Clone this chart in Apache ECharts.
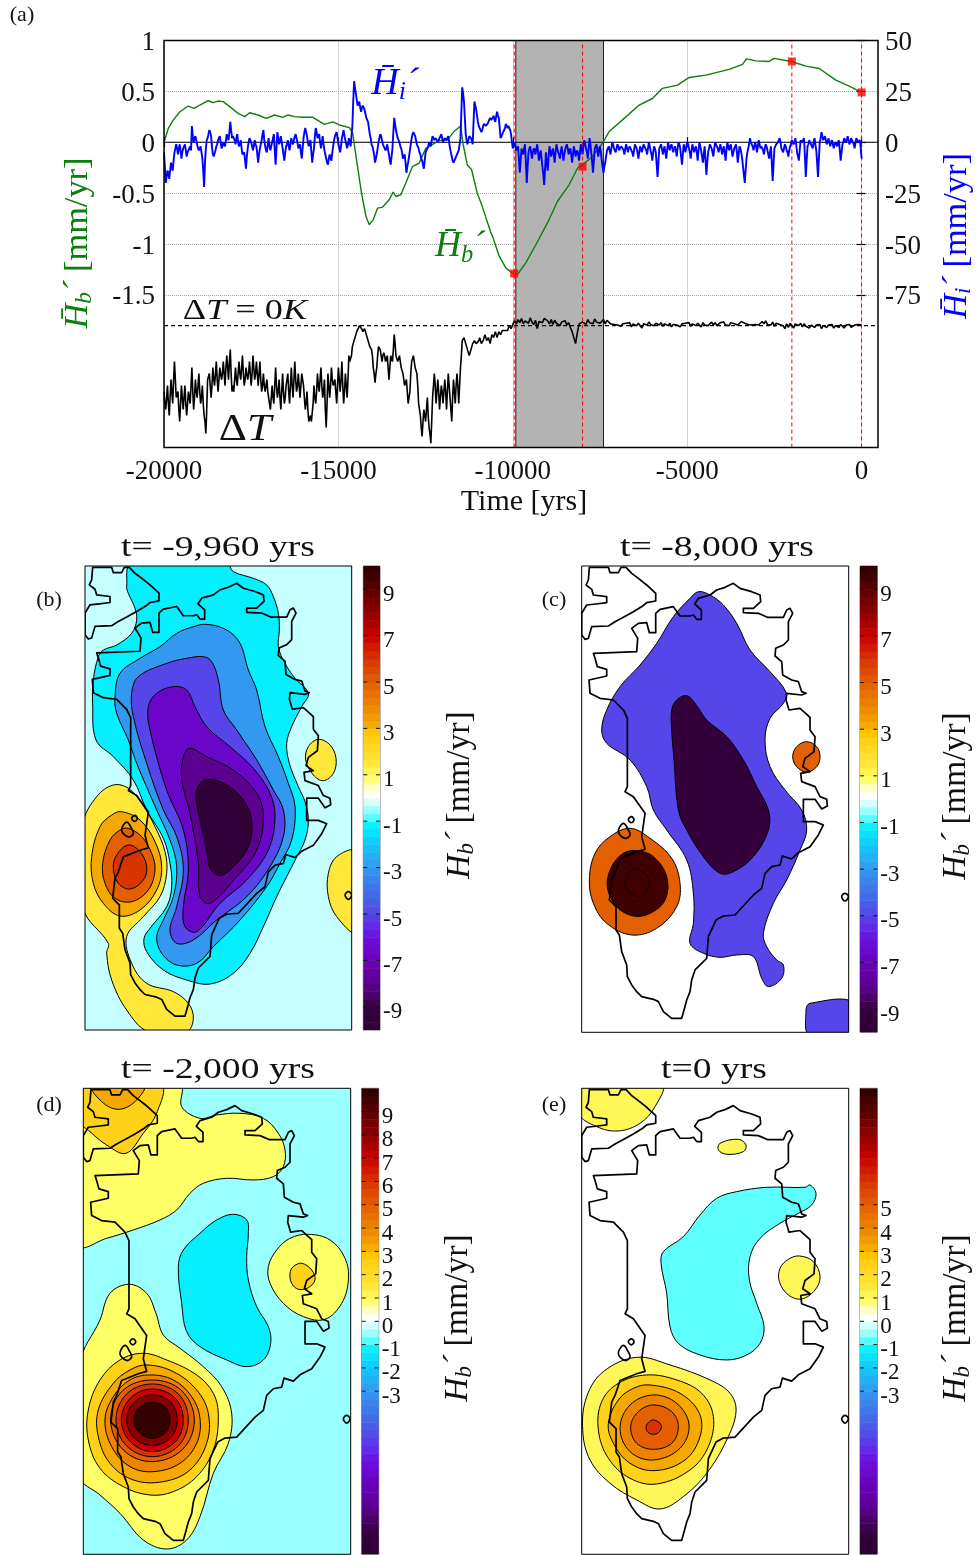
<!DOCTYPE html>
<html><head><meta charset="utf-8">
<style>html,body{margin:0;padding:0;background:#fff}#c{width:977px;height:1555px}</style>
<script src="https://cdn.jsdelivr.net/npm/echarts@6/dist/echarts.min.js"></script>
</head><body><div id="c"></div>
<script>
// ---------- panel (a): time series ----------
const xTicks = [-20000,-15000,-10000,-5000,0];
const leftTicks = [1,0.5,0,-0.5,-1,-1.5];
const rightTicks = [50,25,0,-25,-50,-75];
const markerTimes = [-9960,-8000,-2000,0];
const markerValues = [-1.29,-0.24,0.794,0.49];
const recoveryBand = [-9914,-7400];
const yearStep = 50;

// Hi' (mm/yr), every 50 yr from -20000
const iceRate = [
-5,-20,-14,-18,-10,-14,-5,-1,-6,-1,-8,-3,-1,-7,-4,-2,8,0,3,-1,
-4,-2,-8,-22,-3,2,6,3,-6,-7,-2,1,3,-3,0,-2,4,1,10,2,
3,-1,4,-2,1,-6,-5,-13,-3,2,0,-4,1,-2,-10,-3,1,6,-2,-5,
2,-4,0,4,-11,5,-1,3,-3,-9,-2,1,-4,2,-1,3,4,-3,-1,-8,
2,7,3,-2,1,-10,-3,7,2,4,-3,3,-4,-8,-11,-6,-9,-2,3,5,
-1,-5,2,6,1,-3,2,-2,8,30,24,18,20,15,18,16,12,10,4,-1,
-2,-10,-6,0,4,1,-2,-4,-1,-6,-11,-3,12,6,2,0,-3,-8,-6,-15,
-10,-4,2,5,3,-1,-3,-6,-9,-13,-5,-3,0,-2,3,1,2,0,1,4,
0,2,1,3,-3,-7,-10,-8,-6,-4,2,27,20,4,-1,3,2,-1,20,16,
10,7,5,8,9,8,10,12,11,13,10,15,12,2,4,6,9,7,8,4,
-3,0,-4,-2,-15,-3,-6,-1,-20,-5,-2,-8,-3,-6,-1,-9,-4,-12,-21,-5,
-14,-2,-7,-3,-10,-1,-5,-8,-2,-9,-4,-1,-6,-3,-10,-2,-7,-4,-9,-1,
-6,1,-3,-8,2,-5,-15,-3,-1,-7,-2,-9,-15,-10,-4,-2,-6,0,-3,-5,
-1,-4,-2,-3,-6,-1,-5,-2,-4,-7,-1,-3,-8,-2,-5,-1,-3,-6,0,-4,
-9,-2,-5,-17,-3,-1,-6,-2,-8,0,-4,-1,-5,-2,-7,0,-3,-11,-1,-5,
0,-3,-8,-1,-5,-2,-9,0,-4,-10,-2,-16,-5,-1,-3,-7,0,-2,-5,-1,
-6,-2,-9,0,-4,-1,-7,-3,-1,-10,-2,-5,-12,-20,-8,-3,2,-1,-4,0,
-5,1,-3,-2,-6,-1,-4,-8,-2,-19,-3,-1,0,2,-3,-5,-1,-4,-7,-2,
1,-1,2,-5,-9,1,0,2,-17,-2,1,-1,-3,2,-4,-17,0,5,1,3,
-1,2,-2,1,-3,0,-2,1,-9,-1,2,0,3,-1,2,1,-3,2,0,1,-8];
// Hi' samples halfway between the ones above
const iceRateMid = [
-12,-17,-15,-14,-12,-9,-3,-3,-3,-4,-5,-2,-4,-5,-3,-4,3,2,1,-3,
-3,-5,-14,-10,1,4,5,-2,-7,-4,-1,2,0,-2,-1,1,2,5,6,3,
1,2,0,-1,-3,-6,-9,-7,0,1,-2,-2,-1,-6,-6,-1,4,1,-4,-1,
-2,-2,2,-4,-3,2,1,0,-6,-5,-1,-2,-1,0,1,4,0,-2,-5,-3,
5,5,0,0,-5,-6,3,5,3,0,0,-1,-6,-10,-8,-8,-5,1,4,2,
-3,-2,4,3,-1,-1,0,3,20,27,21,19,17,17,17,14,11,7,2,-2,
-6,-8,-3,2,3,-1,-3,-3,-4,-9,-7,5,9,4,1,-2,-5,-7,-10,-12,
-7,-1,4,4,1,-2,-5,-8,-11,-9,-4,-2,-1,1,2,2,1,1,3,2,
1,2,2,0,-5,-9,-9,-7,-5,-1,15,24,12,1,1,3,1,10,18,13,
8,6,6,9,8,9,11,11,12,11,13,13,7,3,5,7,8,8,6,0,
-2,-2,-3,-8,-9,-5,-3,-10,-12,-3,-5,-5,-4,-3,-5,-6,-8,-16,-13,-10,
-8,-4,-5,-6,-5,-3,-6,-5,-5,-6,-2,-3,-4,-6,-6,-4,-5,-6,-5,-3,
-2,-1,-5,-3,-1,-10,-9,-2,-4,-4,-5,-12,-12,-7,-3,-4,-3,-1,-4,-3,
-2,-3,-2,-4,-3,-3,-3,-3,-5,-4,-2,-5,-5,-3,-3,-2,-4,-3,-2,-6,
-5,-3,-11,-10,-2,-3,-4,-5,-4,-2,-2,-3,-3,-4,-3,-1,-7,-6,-3,-2,
-1,-5,-4,-3,-3,-5,-4,-2,-7,-6,-9,-10,-3,-2,-5,-3,-1,-3,-3,-3,
-4,-5,-4,-2,-2,-4,-5,-2,-5,-6,-3,-8,-16,-14,-5,-1,0,-2,-2,-2,
-2,-1,-2,-4,-3,-2,-6,-5,-10,-11,-2,-1,1,0,-4,-3,-2,-5,-4,-1,
0,0,-1,-7,-4,0,1,-7,-9,-1,0,-2,0,-1,-10,-8,2,3,2,1,
0,0,0,-1,-1,-1,0,-4,-5,0,1,1,1,0,1,-1,0,1,0,-3];

// deltaT (K), every 50 yr from -20000
const deltaT = [
-11,-14,-10,-15,-9,-13,-6,-12,-11,-16,-10,-14,-10,-15,-11,-13,-7,-14,-9,-12,
-8,-13,-10,-15,-18,-9,-8,-12,-7,-10,-6,-11,-7,-9,-6,-10,-5,-9,-4,-11,
-11,-7,-10,-6,-9,-5,-10,-7,-9,-6,-10,-5,-9,-6,-10,-6,-11,-8,-11,-9,
-12,-14,-10,-13,-7,-12,-9,-14,-8,-13,-10,-8,-13,-7,-12,-6,-11,-8,-12,-8,
-10,-14,-11,-16,-15,-16,-10,-13,-8,-11,-7,-12,-9,-17,-8,-12,-7,-10,-9,-13,
-7,-11,-6,-13,-8,-12,-5,-6,-3.5,-2.5,-1.5,-0.8,0,-0.3,-1,-0.5,-1.5,-2.5,-3.5,-4,
-7,-9.5,-7,-3.5,-4,-6,-4.5,-6,-5,-9,-5,-6,-1.5,-5,-6,-5,-7,-8,-10,-9,
-13,-11,-6,-5,-7,-8,-13,-15,-18.5,-14,-16,-12,-17,-19.6,-12,-8,-13,-9,-14,-10,
-13,-9,-14,-8,-12,-16,-9,-13,-8,-13,-7,-2.5,-2,-3,-4,-5,-4,-3,-2.5,-3,
-3,-2,-3,-2.5,-1.5,-2.5,-2,-3,-1.5,-2,-1,-2,-1,-1.5,-0.8,-1,-0.5,-0.8,0,-0.5,
0.2,0.8,0.3,1,0.5,1.2,0.3,0.8,1.1,0.4,1.3,0.6,0.2,0.9,-0.5,0.7,1,0.5,1.2,1.5,
0.8,0.3,1,0.2,0.9,0.4,0.7,0,0.6,0.3,0.8,0.1,0.5,-0.3,-1,-2,-3,-1.2,0.3,0.5,
0.6,0.9,0.2,1,0.5,0.8,0.3,1.1,0.6,0.9,0.4,0.7,1,0.3,0.9,0.8,0.3,0.6,0.2,0.5,
0.1,0.4,-0.1,0.3,0,0.4,0.2,0.5,-0.2,0.3,0.6,0,0.4,0.1,-0.4,0.3,0.5,0.1,0.6,0.2,
0.5,0,0.4,0.7,0.1,0.5,-0.1,0.3,0.6,0,0.4,-0.2,0.2,0.5,0.1,0.4,-0.2,0.3,0,0.4,
0.1,0.5,-0.1,0.3,0.6,0,0.4,0.2,-0.2,0.5,0.1,0.4,0,0.3,0.6,0.1,0.5,0,0.3,0.5,
0.2,0.6,0.1,0.4,0,0.5,0.8,0.3,0.6,0.1,0.4,0.7,0.9,0.4,0.6,0.2,0.5,0.1,0.4,0.2,
0.5,0.1,0.4,0.7,0.3,0.8,0.2,0.5,0.1,0.6,-0.1,0.4,0.7,0.2,0.5,0,-0.5,0.3,-0.3,0.4,
0.1,-0.4,0.3,0.6,0,0.4,-0.2,0.3,-0.1,0.2,-0.4,0.1,0.3,-0.3,0.1,-0.2,0.2,-0.5,0,0.2,
-0.3,0.1,-0.2,0.2,-0.4,0,0.1,-0.3,0.2,-0.1,-0.4,0.1,-0.2,0.2,-0.3,0,0.1,-0.2,0.2,0,0.1];
// deltaT samples halfway between the first 200 above
const deltaTMid = [
-13,-12,-13,-12,-11,-9,-9,-12,-14,-13,-12,-12,-13,-13,-12,-10,-11,-12,-11,-10,
-11,-12,-13,-16,-14,-9,-10,-10,-9,-8,-9,-9,-8,-8,-8,-7,-7,-6,-8,-10,
-9,-9,-8,-8,-7,-8,-9,-8,-8,-8,-8,-7,-8,-8,-8,-9,-10,-10,-10,-11,
-13,-12,-12,-10,-10,-11,-12,-11,-11,-12,-9,-11,-10,-10,-9,-9,-10,-10,-10,-9,
-12,-13,-14,-16,-16,-13,-12,-11,-10,-9,-10,-11,-14,-13,-10,-10,-9,-10,-11,-10,
-9,-9,-10,-11,-10,-9,-6,-5,-3,-2,-1,-0.4,-0.2,-0.6,-0.8,-1,-2,-3,-3.8,-5,
-8,-8,-5,-3.8,-5,-5,-5,-5.5,-7,-7,-5.5,-4,-3,-5.5,-5.5,-6,-7.5,-9,-9.5,-11,
-12,-8,-5.5,-6,-7.5,-10,-14,-17,-16,-15,-14,-15,-18,-16,-10,-10,-11,-11,-12,-11,
-11,-11,-11,-10,-14,-12,-11,-10,-10,-10,-5,-2.2,-2.5,-3.5,-4.5,-4.5,-3.5,-2.8,-2.8,-3,
-2.5,-2.5,-2.8,-2,-2,-2.2,-2.5,-2.2,-1.8,-1.5,-1.5,-1.5,-1.2,-1.2,-0.9,-0.8,-0.6,-0.4,-0.2,-0.2];

// Hb' (mm/yr): [time, value]
const bedRate = [[-20000,0],[-19876,0.137],[-19733,0.22],[-19543,0.30],[-19305,0.356],[-19143,0.333],[-18971,0.366],[-18733,0.408],[-18590,0.389],[-18448,0.405],[-18305,0.399],[-18114,0.35],[-17876,0.284],[-17686,0.252],[-17543,0.29],[-17305,0.268],[-17067,0.235],[-16829,0.268],[-16590,0.245],[-16448,0.268],[-16257,0.252],[-16019,0.245],[-15733,0.245],[-15400,0.176],[-15162,0.2],[-14971,0.17],[-14686,0.144],[-14590,0.09],[-14495,-0.14],[-14352,-0.467],[-14210,-0.73],[-14114,-0.81],[-14000,-0.76],[-13876,-0.647],[-13733,-0.637],[-13543,-0.565],[-13429,-0.49],[-13352,-0.533],[-13210,-0.516],[-13067,-0.4],[-12876,-0.239],[-12686,-0.206],[-12495,-0.06],[-12114,0.016],[-11876,0.023],[-11686,0.105],[-11495,0.16],[-11429,-0.01],[-11305,-0.222],[-11181,-0.27],[-11019,-0.5],[-10876,-0.63],[-10638,-0.88],[-10580,-0.925],[-10390,-1.12],[-10200,-1.235],[-10000,-1.29],[-9866,-1.30],[-9627,-1.186],[-9340,-1.007],[-8958,-0.76],[-8719,-0.58],[-8384,-0.418],[-8145,-0.255],[-8002,-0.222],[-7715,-0.14],[-7429,-0.01],[-7238,0.105],[-6855,0.22],[-6377,0.366],[-5995,0.43],[-5708,0.53],[-5278,0.562],[-4944,0.637],[-4466,0.66],[-3797,0.716],[-3414,0.765],[-3300,0.82],[-3032,0.80],[-2650,0.794],[-2507,0.824],[-2010,0.794],[-1599,0.748],[-1217,0.725],[-739,0.61],[-356,0.552],[0,0.49]];

// ---------- maps: outlines in map-grid units ----------
const coastIslands = [
[[275,250],[290,225],[318,222],[350,218],[350,200],[310,195],[305,178],[288,165],[295,150],[298,112],[355,112],[360,128],[385,128],[393,112],[408,112],[425,130],[445,145],[470,165],[497,190],[497,213],[470,218],[458,228],[430,245],[400,262],[375,275],[355,288],[305,290],[295,325],[285,328],[275,315]],
[[385,905],[400,880],[415,900],[420,915],[405,925]],
[[415,868],[425,860],[432,870],[423,878]],
[[1055,1100],[1065,1090],[1075,1100],[1065,1113]]];
const coastMain = [[425,295],[445,280],[470,278],[478,308],[497,308],[497,250],[510,238],[550,230],[570,258],[600,258],[610,255],[620,268],[634,268],[634,240],[614,222],[625,205],[660,195],[680,180],[705,172],[730,160],[750,175],[785,185],[810,195],[812,215],[790,235],[760,235],[760,248],[805,250],[832,262],[880,262],[890,240],[900,235],[908,250],[895,275],[895,330],[880,345],[857,355],[855,378],[875,395],[878,435],[905,450],[925,455],[935,485],[948,490],[935,495],[890,490],[888,510],[897,540],[930,535],[960,562],[960,600],[975,620],[972,665],[945,685],[938,710],[960,725],[932,730],[935,755],[975,770],[990,800],[1010,808],[1012,828],[995,837],[975,808],[940,808],[940,875],[975,875],[1000,885],[985,915],[960,950],[925,968],[905,987],[877,978],[870,1005],[845,1010],[825,1030],[815,1075],[790,1095],[735,1155],[700,1158],[678,1170],[655,1220],[650,1285],[615,1320],[605,1350],[600,1385],[590,1410],[582,1440],[575,1465],[545,1465],[520,1445],[505,1415],[490,1408],[455,1400],[440,1385],[425,1365],[412,1340],[410,1305],[395,1265],[388,1215],[378,1200],[378,1130],[358,1110],[365,1050],[375,1030],[390,985],[440,965],[465,958],[455,920],[465,850],[430,800],[405,785],[412,770],[412,565],[400,540],[370,510],[330,505],[300,490],[297,450],[350,438],[350,418],[322,410],[315,385],[310,370],[440,365],[443,325],[425,295]];

// contour regions: [level in mm/yr, outline]
const contoursB = [
[-1.2,[[395,100],[680,100],[700,125],[760,145],[800,165],[820,200],[835,250],[838,300],[835,350],[855,400],[885,445],[925,490],[905,530],[875,590],[860,640],[868,700],[895,770],[915,815],[925,870],[915,930],[888,985],[860,1040],[830,1100],[790,1190],[750,1270],[700,1330],[630,1362],[560,1350],[490,1320],[440,1265],[432,1225],[450,1195],[500,1130],[515,1070],[510,1000],[490,925],[440,840],[400,750],[340,680],[288,630],[278,520],[280,450],[295,380],[310,360],[350,345],[395,310],[410,270],[405,235],[385,190],[380,170]]],
[-3,[[620,283],[680,300],[720,340],[745,420],[770,480],[795,590],[835,680],[865,760],[885,830],[875,930],[840,1000],[800,1070],[720,1170],[640,1250],[590,1300],[530,1305],[485,1270],[470,1220],[490,1170],[520,1100],[530,1010],[510,930],[470,840],[410,700],[385,630],[350,550],[345,500],[360,430],[420,385],[480,350],[530,310],[580,290]]],
[-5,[[610,380],[635,395],[655,450],[670,540],[710,600],[770,690],[820,780],[850,840],[850,920],[810,1010],[740,1100],[650,1170],[580,1230],[530,1240],[510,1200],[530,1130],[550,1020],[530,920],[490,840],[440,700],[400,560],[395,490],[415,440],[500,400],[560,385]]],
[-6.6,[[520,470],[560,480],[585,530],[620,590],[690,650],[760,715],[810,790],[825,860],[805,960],[740,1050],[660,1120],[590,1205],[555,1190],[550,1130],[565,1020],[550,900],[500,780],[450,600],[445,530],[470,490]]],
[-8,[[570,655],[620,680],[700,720],[770,790],[790,860],[770,960],[710,1040],[630,1120],[600,1100],[595,1000],[570,850],[545,750],[550,680]]],
[-9.5,[[630,748],[680,765],[730,810],[755,870],[745,950],[700,1010],[660,1037],[630,1015],[620,960],[600,870],[588,800],[600,760]]],
[1.5,[[340,765],[385,775],[425,820],[465,890],[495,965],[500,1030],[480,1100],[430,1160],[380,1220],[395,1300],[440,1360],[520,1385],[565,1420],[580,1465],[560,1505],[445,1505],[380,1440],[335,1350],[320,1270],[325,1240],[250,1135],[250,880],[290,800]]],
[3.2,[[365,845],[420,870],[465,935],[485,1010],[470,1080],[420,1140],[360,1158],[310,1120],[280,1060],[275,980],[300,890],[335,855]]],
[5,[[385,895],[425,920],[455,970],[465,1020],[445,1080],[395,1115],[345,1105],[315,1060],[308,1000],[330,930],[360,900]]],
[6,[[385,945],[420,965],[440,1010],[430,1050],[390,1077],[355,1060],[340,1015],[350,975]]],
[1.5,[[955,628],[990,645],[1008,685],[1000,730],[970,752],[940,735],[917,690],[925,650]]],
[1.5,[[1065,965],[1010,980],[985,1030],[985,1100],[1010,1160],[1065,1205]]]];
const contoursC = [
[-5,[[625,185],[660,195],[700,225],[740,280],[780,360],[840,425],[888,487],[880,520],[840,565],[825,630],[840,710],[885,780],[935,840],[950,900],[930,960],[890,1050],[850,1120],[820,1210],[830,1250],[860,1290],[880,1305],[875,1345],[835,1370],[815,1345],[790,1280],[740,1275],[690,1282],[640,1270],[600,1240],[610,1180],[610,1090],[590,990],[530,900],[490,840],[470,770],[420,690],[350,640],[335,600],[350,540],[390,470],[450,405],[500,340],[550,260],[600,205]]],
[-9.3,[[590,497],[615,520],[650,570],[710,620],[760,690],[800,770],[835,840],[835,900],[790,980],[730,1025],[690,1030],[640,980],[590,900],[565,840],[552,690],[545,600],[545,540],[560,510]]],
[5,[[420,895],[480,925],[545,985],[570,1060],[560,1130],[500,1195],[425,1215],[350,1180],[310,1120],[298,1050],[315,970],[360,920]]],
[9.6,[[440,962],[490,980],[530,1040],[525,1110],[480,1150],[430,1158],[380,1130],[352,1070],[365,1010],[400,970]]],
[9.6,[[440,1018],[470,1035],[478,1060],[465,1090],[437,1098],[410,1080],[405,1055],[415,1030]]],
[5,[[950,635],[980,650],[990,680],[980,710],[950,727],[920,710],[908,680],[920,650]]],
[-5,[[960,1420],[1090,1417],[1095,1520],[960,1520],[948,1440]]]];
const contoursD = [
[0.9,[[240,105],[540,105],[545,170],[600,205],[650,195],[720,190],[790,205],[835,250],[855,300],[850,350],[820,380],[760,390],[680,385],[610,400],[570,430],[530,480],[480,510],[400,540],[320,565],[240,585]]],
[-1.2,[[700,493],[740,510],[745,550],[740,620],[745,690],[770,770],[805,830],[812,880],[790,930],[740,950],[680,930],[600,890],[560,845],[545,760],[535,650],[550,600],[600,550],[650,510]]],
[2.4,[[240,105],[482,105],[470,190],[430,250],[378,310],[320,285],[270,245],[240,215]]],
[3.2,[[275,105],[432,105],[405,155],[355,178],[305,155]]],
[0.9,[[925,553],[990,570],[1035,625],[1045,690],[1025,760],[975,808],[910,800],[850,760],[810,700],[805,650],[830,600],[870,565]]],
[2.4,[[905,640],[935,660],[945,690],[925,713],[895,718],[875,700],[870,670],[880,650]]],
[0.9,[[388,703],[440,730],[468,790],[490,855],[540,895],[610,950],[665,1010],[695,1090],[685,1180],[640,1270],[600,1400],[560,1470],[500,1497],[430,1470],[360,1390],[300,1335],[240,1280],[240,940],[300,810],[330,730]]],
[2.4,[[430,910],[500,930],[590,975],[640,1030],[655,1100],[640,1200],[590,1280],[520,1325],[450,1335],[370,1310],[300,1255],[265,1170],[265,1080],[300,990],[360,930]]],
[3.2,[[440,945],[520,965],[590,1020],[625,1090],[620,1180],[570,1260],[490,1295],[400,1290],[330,1240],[295,1160],[295,1080],[340,1000],[390,960]]],
[4,[[450,975],[520,990],[575,1040],[600,1105],[590,1180],[540,1240],[460,1265],[390,1250],[335,1190],[315,1110],[340,1040],[390,990]]],
[5,[[457,990],[545,1022],[583,1110],[548,1198],[457,1235],[370,1200],[332,1110],[368,1022]]],
[6,[[457,1002],[535,1032],[565,1110],[535,1188],[457,1220],[380,1188],[348,1110],[380,1032]]],
[7,[[457,1017],[525,1044],[550,1110],[525,1176],[457,1205],[392,1176],[364,1110],[392,1044]]],
[8.2,[[457,1035],[511,1056],[532,1110],[511,1164],[457,1187],[403,1164],[380,1110],[403,1056]]],
[9.8,[[457,1057],[496,1072],[510,1110],[496,1148],[457,1165],[418,1148],[402,1110],[418,1072]]]];
const contoursE = [
[1.1,[[265,105],[515,105],[495,170],[450,220],[385,243],[320,230],[265,190]]],
[1.1,[[745,268],[768,285],[760,305],[710,313],[685,300],[690,280]]],
[-0.8,[[960,405],[978,430],[965,465],[925,490],[870,520],[810,565],[780,620],[778,690],[800,760],[822,830],[810,880],[770,915],[710,930],[630,915],[565,880],[540,830],[530,730],[513,640],[520,605],[580,560],[630,495],[680,445],[740,425],[830,412],[945,412]]],
[1.1,[[928,618],[970,635],[990,680],[975,720],[935,747],[895,735],[868,695],[870,655],[895,628]]],
[1.1,[[440,922],[540,945],[660,990],[720,1030],[738,1085],[710,1170],[650,1270],[580,1340],[510,1377],[440,1350],[360,1300],[300,1230],[278,1140],[290,1040],[340,965]]],
[2.4,[[470,975],[560,990],[635,1030],[670,1100],[655,1190],[600,1260],[500,1302],[420,1285],[355,1225],[325,1140],[335,1055],[385,1000]]],
[3.2,[[480,1005],[570,1030],[628,1090],[630,1160],[585,1230],[495,1262],[420,1240],[370,1180],[355,1120],[385,1050],[430,1015]]],
[4,[[490,1035],[560,1060],[597,1125],[570,1195],[490,1230],[420,1205],[390,1135],[420,1065]]],
[5,[[490,1065],[545,1085],[565,1130],[545,1180],[490,1198],[440,1180],[422,1130],[445,1085]]],
[6,[[490,1110],[510,1120],[514,1133],[505,1148],[490,1153],[475,1148],[468,1133],[475,1118]]]];

const oddTicks = [-9,-7,-5,-3,-1,1,3,5,7,9];
const denseTicks = [-3,-2,-1,0,1,2,3,4,5,6,7,8,9];
const sparseTicks = [-3,-2,-1,0,1,2,3,4,5];
const titles = ['t= -9,960 yrs','t= -8,000 yrs','t= -2,000 yrs','t=0 yrs'];

// ---------- colour scale ----------
const colorStops = [[-10,'#2d0033'],[-9,'#36003f'],[-8,'#5c0090'],[-7,'#6a00b8'],[-6,'#6a10e0'],[-5,'#5645e8'],[-4,'#4070e8'],[-3,'#3399f0'],[-2,'#12c8fa'],[-1.2,'#05f0ff'],[-0.8,'#60ffff'],[-0.5,'#99ffff'],[-0.25,'#c6ffff'],[0.05,'#ffffff'],[0.3,'#fffff0'],[0.5,'#ffffc0'],[0.9,'#ffff66'],[1.5,'#ffe83a'],[2.4,'#ffd21a'],[2.8,'#ffc800'],[3.2,'#f5a800'],[4,'#ec8400'],[5,'#e35f00'],[6,'#d83400'],[7,'#cc0000'],[8,'#900000'],[9,'#5c0000'],[10,'#2a0000']];
function colorOf(v){
  for(let i=1;i<colorStops.length;i++){
    if(v<=colorStops[i][0]){
      const a=colorStops[i-1],b=colorStops[i];
      return echarts.color.lerp((v-a[0])/(b[0]-a[0]),[a[1],b[1]]);
    }
  }
  return colorStops[colorStops.length-1][1];
}

const SERIF='"Liberation Serif"';
const chart=echarts.init(document.getElementById('c'),null,{renderer:'canvas'});
const grids=[],xAxes=[],yAxes=[],series=[],graphics=[];

// panel a axes
grids.push({left:164,top:40.5,width:714,height:407,show:true,borderWidth:0,backgroundColor:'#fff'});
const dotted={show:true,lineStyle:{color:'#aaa',type:'dotted',width:1}};
const tickLine={color:'#000',width:1.2};
const plain=v=>String(v);
xAxes.push({type:'value',gridIndex:0,min:-20000,max:470,position:'bottom',
  axisLine:{show:false},axisTick:{show:true,inside:true,length:5,customValues:xTicks,lineStyle:tickLine},
  axisLabel:{customValues:xTicks,formatter:plain,fontFamily:SERIF,fontSize:27,color:'#111',margin:11},splitLine:dotted,
  name:'Time [yrs]',nameLocation:'middle',nameGap:40,nameTextStyle:{fontFamily:SERIF,fontSize:30,color:'#111',padding:[0,0,0,6]}});
xAxes.push({type:'value',gridIndex:0,min:-20000,max:470,position:'top',
  axisLine:{show:false},axisTick:{show:true,inside:true,length:5,customValues:xTicks,lineStyle:tickLine},
  axisLabel:{show:false},splitLine:{show:false}});
yAxes.push({type:'value',gridIndex:0,min:-3,max:1,position:'left',
  axisLine:{show:false},axisTick:{show:true,inside:true,length:4,customValues:leftTicks,lineStyle:tickLine},
  axisLabel:{customValues:leftTicks,formatter:plain,fontFamily:SERIF,fontSize:27,color:'#111',margin:9,verticalAlign:'top',padding:[-11,0,0,0]},splitLine:dotted});
yAxes.push({type:'value',gridIndex:0,min:-150,max:50,position:'right',
  axisLine:{show:false},axisTick:{show:true,inside:true,length:5,customValues:rightTicks,lineStyle:tickLine},
  axisLabel:{customValues:rightTicks,formatter:plain,fontFamily:SERIF,fontSize:27,color:'#111',margin:7,verticalAlign:'top',padding:[-11,0,0,0]},splitLine:{show:false}});
yAxes.push({type:'value',gridIndex:0,min:-20.33,max:47.57,show:false});

series.push({type:'custom',xAxisIndex:0,yAxisIndex:0,z:1,silent:true,clip:true,data:[[recoveryBand[0],recoveryBand[1]]],
  renderItem(p,api){
    const a=api.coord([api.value(0),1]),b=api.coord([api.value(1),-3]);
    return {type:'rect',shape:{x:a[0],y:a[1],width:b[0]-a[0],height:b[1]-a[1]},style:{fill:'#b3b3b3',stroke:'#222',lineWidth:1}};
  }});
const lineBase={type:'line',showSymbol:false,symbol:'none',animation:false,silent:true,xAxisIndex:0};
series.push({...lineBase,name:'zero',yAxisIndex:0,z:2,data:[[-20000,0],[470,0]],lineStyle:{color:'#000',width:1}});
series.push({...lineBase,name:'dT=0',yAxisIndex:2,z:2,data:[[-20000,0],[470,0]],lineStyle:{color:'#000',width:1.2,type:[4,3]}});
markerTimes.forEach(t=>series.push({...lineBase,yAxisIndex:0,z:3,data:[[t,-3],[t,1]],lineStyle:{color:'#ff0000',width:1,type:[4,3]}}));
const dtPts=[];
deltaT.forEach((v,i)=>{dtPts.push([-20000+i*yearStep,v]); if(i<deltaTMid.length)dtPts.push([-20000+(i+0.5)*yearStep,deltaTMid[i]]);});
const hiPts=[];
iceRate.forEach((v,i)=>{hiPts.push([-20000+i*yearStep,v]); if(i<iceRateMid.length)hiPts.push([-20000+(i+0.5)*yearStep,iceRateMid[i]]);});
series.push({...lineBase,name:'dT',yAxisIndex:2,z:4,data:dtPts,sampling:undefined,lineStyle:{color:'#000',width:1.6}});
series.push({...lineBase,name:'Hb',yAxisIndex:0,z:5,data:bedRate,lineStyle:{color:'#0a7f0a',width:1.4}});
series.push({...lineBase,name:'Hi',yAxisIndex:1,z:6,data:hiPts,lineStyle:{color:'#0000ff',width:1.9}});
series.push({type:'scatter',xAxisIndex:0,yAxisIndex:0,z:7,silent:true,symbol:'rect',symbolSize:8,itemStyle:{color:'#ff0000'},
  data:markerTimes.map((t,i)=>[t,markerValues[i]])});
series.push({type:'custom',xAxisIndex:0,yAxisIndex:0,z:8,silent:true,clip:false,data:[[0]],
  renderItem(p,api){
    const s=p.coordSys;
    return {type:'rect',shape:{x:s.x,y:s.y,width:s.width,height:s.height},style:{fill:'none',stroke:'#000',lineWidth:1.5}};
  }});

// map panels
const panels=[
 {c:contoursB,bg:-0.25,g:[85,566,266.7,464],x:[255,1055],y:[108,1500],cb:[363.3,566,16.7,464],ticks:oddTicks},
 {c:contoursC,bg:0.05,g:[581.7,566,267,466.3],x:[275,1076],y:[108,1507],cb:[860,566,17.3,466.3],ticks:oddTicks},
 {c:contoursD,bg:-0.5,g:[83.3,1088.3,267.4,466],x:[250,1052],y:[115,1513],cb:[361.7,1088.3,17,466],ticks:denseTicks},
 {c:contoursE,bg:0.05,g:[581.7,1088.3,267,466],x:[275,1076],y:[115,1513],cb:[860,1088.3,17.3,466],ticks:sparseTicks}];
const barLevels=[];
for(let i=0;i<60;i++)barLevels.push(-10+i/3);

panels.forEach(P=>{
  const gi=grids.length, ai=xAxes.length, yi=yAxes.length;
  grids.push({left:P.g[0],top:P.g[1],width:P.g[2],height:P.g[3],show:true,backgroundColor:colorOf(P.bg),borderWidth:0});
  xAxes.push({type:'value',gridIndex:gi,min:P.x[0],max:P.x[1],show:false});
  yAxes.push({type:'value',gridIndex:gi,min:P.y[0],max:P.y[1],inverse:true,show:false});
  series.push({type:'custom',xAxisIndex:ai,yAxisIndex:yi,z:2,silent:true,clip:true,
    data:P.c.map((c,i)=>[i,c[0]]),
    renderItem(p,api){
      const c=P.c[p.dataIndex];
      return {type:'polygon',shape:{points:c[1].map(q=>api.coord(q)),smooth:0.37},
        style:{fill:colorOf(c[0]),stroke:'#000',lineWidth:1}};
    }});
  const sy=(P.y[1]-P.y[0])/1399, mapPt=q=>[q[0]-275+P.x[0],(q[1]-108)*sy+P.y[0]];
  const lines=[coastMain,...coastIslands];
  series.push({type:'custom',xAxisIndex:ai,yAxisIndex:yi,z:3,silent:true,clip:true,
    data:lines.map((l,i)=>[i]),
    renderItem(p,api){
      const l=lines[p.dataIndex];
      return {type:'polygon',shape:{points:l.map(q=>api.coord(mapPt(q))),smooth:l.length<=5?0.4:0},
        style:{fill:'none',stroke:'#000',lineWidth:1.7,lineJoin:'round'}};
    }});
  series.push({type:'custom',xAxisIndex:ai,yAxisIndex:yi,z:4,silent:true,clip:false,data:[[0]],
    renderItem(p,api){
      const s=p.coordSys;
      return {type:'rect',shape:{x:s.x,y:s.y,width:s.width,height:s.height},style:{fill:'none',stroke:'#000',lineWidth:1}};
    }});
  // colour bar
  const bg=grids.length, bx=xAxes.length, by=yAxes.length;
  grids.push({left:P.cb[0],top:P.cb[1],width:P.cb[2],height:P.cb[3],show:true,borderColor:'#777',borderWidth:1,backgroundColor:'#fff'});
  xAxes.push({type:'value',gridIndex:bg,min:0,max:1,show:false});
  yAxes.push({type:'value',gridIndex:bg,min:-10,max:10,position:'right',axisLine:{show:false},axisTick:{show:false},splitLine:{show:false},
    axisLabel:{customValues:P.ticks,formatter:plain,fontFamily:SERIF,fontSize:23,color:'#111',margin:3,verticalAlign:'top',padding:[-6,0,0,0]}});
  series.push({type:'custom',xAxisIndex:bx,yAxisIndex:by,z:2,silent:true,clip:true,
    data:barLevels.map(v=>[v]),
    renderItem(p,api){
      const v=api.value(0),a=api.coord([0,v+1/3]),b=api.coord([1,v]);
      return {type:'rect',shape:{x:a[0],y:a[1],width:b[0]-a[0],height:b[1]-a[1]+0.5},style:{fill:colorOf(v+1/6)}};
    }});
  series.push({type:'custom',xAxisIndex:bx,yAxisIndex:by,z:3,silent:true,clip:true,
    data:P.ticks.map(v=>[v]),
    renderItem(p,api){
      const a=api.coord([0,api.value(0)]),b=api.coord([1,api.value(0)]),st={stroke:'#111',lineWidth:1};
      return {type:'group',children:[
        {type:'line',shape:{x1:a[0],y1:a[1],x2:a[0]+4,y2:a[1]},style:st},
        {type:'line',shape:{x1:b[0]-4,y1:b[1],x2:b[0],y2:b[1]},style:st}]};
    }});
});

// ---------- text ----------
function txt(x,y,text,o={}){
  graphics.push({type:'text',x,y,rotation:o.rot||0,scaleX:o.sx||1,silent:true,z:50,
    style:{text,fontFamily:SERIF,fontSize:o.size||26,fontStyle:o.italic?'italic':'normal',fill:o.color||'#111',
      textAlign:o.align||'center',textVerticalAlign:'middle',rich:o.rich}});
}
function mathRich(size,color){
  return {i:{fontFamily:SERIF,fontStyle:'italic',fontSize:size,fill:color},
          s:{fontFamily:SERIF,fontStyle:'italic',fontSize:size*0.68,fill:color,padding:[size*0.45,0,0,0]},
          n:{fontFamily:SERIF,fontSize:size,fill:color}};
}
const R=Math.PI/2;
[['(a)',22,15],['(b)',49,600],['(c)',554,600],['(d)',49,1105],['(e)',554,1105]].forEach(a=>txt(a[1],a[2],a[0],{size:22}));
const ylabelBar='{i|H\u0304}{s|b}{i|\u00B4}{n| [mm/yr]}', ylabelBarI='{i|H\u0304}{s|i}{i|\u00B4}{n| [mm/yr]}', ylabelMap='{i|H}{s|b}{i|\u00B4}{n| [mm/yr]}';
txt(78,243,ylabelBar,{rot:R,size:33,sx:1.04,color:'#0a7f0a',rich:mathRich(33,'#0a7f0a')});
txt(957,236,ylabelBarI,{rot:R,size:33,sx:1.04,color:'#0000ff',rich:mathRich(33,'#0000ff')});
txt(395,84,'{i|H\u0304}{s|i}{i|\u00B4}',{size:38,color:'#0000ff',rich:mathRich(38,'#0000ff')});
txt(460,247,'{i|H\u0304}{s|b}{i|\u00B4}',{size:36,color:'#0a7f0a',rich:mathRich(36,'#0a7f0a')});
txt(245,311,'{n|\u0394}{i|T}{n| = 0}{i|K}',{size:29,sx:1.25,rich:mathRich(29,'#111')});
txt(245,430,'{n|\u0394}{i|T}',{size:38,sx:1.15,rich:mathRich(38,'#111')});
[[218,548],[717,548],[218,1070],[714,1070]].forEach((p,i)=>txt(p[0],p[1],titles[i],{size:29,sx:1.3}));
[[460,795],[956,796],[458,1318],[956,1318]].forEach(p=>txt(p[0],p[1],ylabelMap,{rot:R,size:33,sx:1.02,rich:mathRich(33,'#111')}));

chart.setOption({animation:false,backgroundColor:'#fff',grid:grids,xAxis:xAxes,yAxis:yAxes,series,graphic:{elements:graphics}});
</script></body></html>
